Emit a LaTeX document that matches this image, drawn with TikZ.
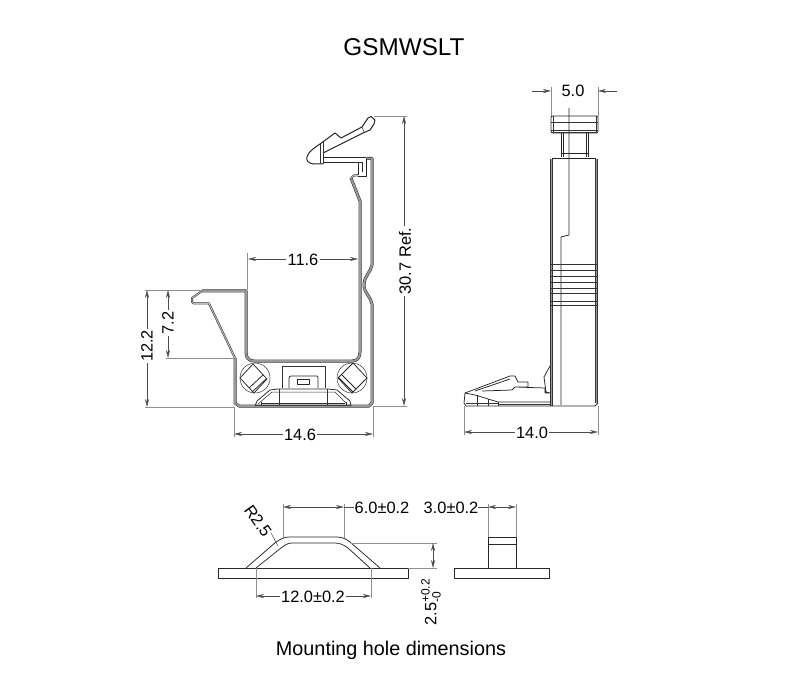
\documentclass[tikz,border=0pt]{standalone}
\usepackage{fontspec}
\setmainfont{Liberation Sans}
\usetikzlibrary{arrows.meta}
\definecolor{dimgray}{gray}{0.45}
\tikzset{
 part/.style={draw=black!85,line width=0.75pt,line join=round},
 thin part/.style={draw=black!80,line width=0.5pt,line join=round},
 thick part/.style={draw=black!75,line width=1.3pt,line join=round},
 wall/.style={draw=black!80,line width=0.55pt,double=black!40,double distance=1.9pt,line join=round},
 slim wall/.style={draw=black!80,line width=0.55pt,double=black!25,double distance=0.9pt,line join=round},
 ext/.style={draw=dimgray!80,line width=0.5pt},
 dimline/.style={draw=black!70,line width=0.5pt},
 tip/.style={-{Stealth[length=8pt,width=4pt]}},
 tips/.style={{Stealth[length=8pt,width=4pt]}-{Stealth[length=8pt,width=4pt]}},
 lbl/.style={font=\fontsize{16.4}{18}\selectfont,inner sep=1.5pt,fill=white},
}
\begin{document}
\begin{tikzpicture}[x=1pt,y=-1pt]
\useasboundingbox (0,0) rectangle (800,700);
\fill[white] (0,0) rectangle (800,700);

\node[font=\fontsize{24.3}{26}\selectfont,inner sep=0pt] (title) at (404,47) {GSMWSLT};
\node[font=\fontsize{19.8}{22}\selectfont,inner sep=0pt] (caption) at (391,650) {Mounting hole dimensions};

% ---- front view: clip
\draw[part,line width=1pt] (323,164) -- (313,164) .. controls (308,163) and (306,160) .. (307,157) .. controls (308,152) and (314,148) .. (320,144) -- (335,133) -- (341,138) -- (362,127) -- (368,118) -- (371,116.5) -- (375,120) -- (374,124) -- (370,130) -- (363,133) -- (323,153);
\draw[thin part] (362,127) -- (364,132);
\draw[thin part] (320,144) -- (320,164) (323,142) -- (323,164);
% arm
\draw[part] (323,157) -- (366,157);
\draw[part] (323,162) -- (362,162) -- (362,172);
\draw[part] (358,163) -- (358,175);
\draw[part] (366,158) -- (366,176) -- (358,176);
% outer wall
\draw[wall] (366.5,158.5) -- (372,158.5) -- (372,265) .. controls (371,272) and (364,276) .. (364,285) .. controls (364,293) and (371,297) .. (372,304) -- (372,403) -- (369,406) -- (239,406) -- (235,403) -- (235,358);
% inner U wall and hook
\draw[wall] (351,178) -- (360,201) -- (360,352) .. controls (360,358) and (357,361) .. (352,361) -- (254,361) .. controls (249,361) and (246,358) .. (246,352) -- (246,291) -- (202,291);
\draw[slim wall] (351,178) -- (354,175.5) -- (358,175.5);
\draw[slim wall] (202,291) -- (192,298) -- (192,302) -- (194,303.5) -- (209,303.5) -- (235,358);
% screws
\draw[thin part] (255,378) circle (15);
\draw[part] (240,378) -- (253,364) -- (267,379) -- (254,393) -- cycle;
\draw[part] (263,375) -- (249,388) (266,379) -- (252,392);
\draw[thin part] (352,378) circle (15);
\draw[part] (338,378) -- (353,363) -- (367,378) -- (352,393) -- cycle;
\draw[part] (342,375) -- (356,389) (339,378) -- (353,392);
% centre boss
\draw[thin part] (282,388) -- (282,366) -- (325,366) -- (325,388);
\draw[part] (289,388) -- (289,378) .. controls (289,376) and (290,376) .. (292,376) -- (316,376) .. controls (318,376) and (318,376) .. (318,378) -- (318,388);
\draw[part] (297,379) rectangle (309,384);
\draw[part] (255,406) -- (257,401) -- (270,390) -- (278,389) -- (328,389) -- (337,390) -- (350,401) -- (351,406);
\draw[thin part] (258,404) -- (272,392) -- (335,392) -- (347,404);
\draw[thin part] (279,389) -- (279,406) (327,389) -- (327,406) (261,402) -- (261,406) (346,402) -- (346,406) (262,403) -- (345,403);
\draw[thick part] (255,405.5) -- (351,405.5);

% dimensions front
\draw[ext] (374,116) -- (407,116) (373,406) -- (407,406);
\draw[dimline,tips] (404,116) -- (404,406);
\node[lbl,rotate=90] (d307) at (405,261) {30.7 Ref.};
\draw[ext] (247,253) -- (247,290);
\draw[dimline,tips] (248,259) -- (358,259);
\node[lbl] (d116) at (303,260) {11.6};
\draw[ext] (145,290) -- (201,290) (145,407) -- (235,407) (166,358) -- (235,358);
\draw[dimline,tips] (147,290) -- (147,407);
\draw[dimline,tips] (168,290) -- (168,358);
\node[lbl,rotate=90] (d122) at (147,346) {12.2};
\node[lbl,rotate=90] (d72) at (168,323) {7.2};
\draw[ext] (234,407) -- (234,437) (373,407) -- (373,437);
\draw[dimline,tips] (234,434) -- (373,434);
\node[lbl] (d146) at (300,435) {14.6};

% ---- side view
\draw[part] (551,118) .. controls (551,116) and (552,116) .. (553,116) -- (596,116) .. controls (598,116) and (598,116) .. (598,118) -- (598,131) .. controls (598,133) and (597,133) .. (596,133) -- (553,133) .. controls (552,133) and (551,133) .. (551,131) -- cycle;
\draw[thin part] (551,122) -- (598,122) (551,130) -- (598,130) (551,132) -- (598,132) (553,116) -- (553,133) (596,116) -- (596,133);
\draw[part] (561,133) -- (561,157) (563,133) -- (563,157) (586,133) -- (586,157) (588,133) -- (588,157) (561,153) -- (588,153);
\draw[part] (569,108) -- (569,235) -- (561,237) -- (561,405);
\draw[part] (552,158) -- (596,158);
\draw[wall] (551.5,406) -- (551.5,159);
\draw[wall] (596.5,159) -- (596.5,403);
\draw[part] (550,406) -- (595,406) -- (598,403);
\draw[thin part] (550,264) -- (598,264) (550,270) -- (598,270) (550,276) -- (598,276) (550,282) -- (598,282) (550,288) -- (598,288) (550,293) -- (598,293) (550,301) -- (598,301) (550,305) -- (598,305);
% foot
\draw[part] (550,402) -- (498,402) -- (475,395) -- (465,393) -- (464,403) -- (466,406) -- (550,406);
\draw[part] (465,393) -- (473,390) -- (510,376) -- (515,376) -- (518,382) -- (528,382) -- (528,387) -- (515,387) -- (512,390) -- (482,391) (510,379) -- (475,391) (515,387) -- (545,388);
\draw[thin part] (477,395) -- (477,406) (488,399) -- (488,406) (498,402) -- (498,406) (498,404) -- (550,404) (466,403) -- (498,403);
\draw[part] (550,366) -- (544,377) -- (546,392) -- (550,393) (545,388) -- (545,393) -- (550,393);

\draw[ext] (551,87) -- (551,116) (598,87) -- (598,116);
\draw[dimline,tip] (532,91) -- (551,91);
\draw[dimline,tip] (617,91) -- (598,91);
\node[lbl] (d50) at (573,91) {5.0};
\draw[ext] (464,406) -- (464,435) (598,406) -- (598,435);
\draw[dimline,tips] (464,432) -- (598,432);
\node[lbl] (d140) at (532,433) {14.0};

% ---- mounting hole, section
\draw[part] (218,568) rectangle (408,578);
\draw[part] (246,568) -- (276,542) .. controls (281,539) and (284,537) .. (289,537) -- (336,537) .. controls (341,537) and (345,538) .. (350,542) -- (380,568);
\draw[part] (256,568) -- (281,548) .. controls (285,545) and (288,543) .. (292,543) -- (335,543) .. controls (340,543) and (344,545) .. (348,548) -- (370,568);
\draw[ext] (283,504) -- (283,539) (344,504) -- (344,538);
\draw[dimline,tips] (283,507) -- (344,507);
\draw[dimline] (344,507) -- (354,507);
\node[font=\fontsize{16.4}{18}\selectfont,inner sep=0pt] (d60) at (382,508) {6.0±0.2};
\draw[ext] (256,568) -- (256,598) (371,568) -- (371,598);
\draw[dimline,tips] (256,596) -- (371,596);
\node[lbl] (d120) at (313,597) {12.0±0.2};
\node[font=\fontsize{16.4}{18}\selectfont,inner sep=0pt,rotate=-55] (r25) at (258,521) {R2.5};
\draw[dimline] (271,533) -- (278,546);
\draw[ext] (351,543) -- (437,543) (408,568) -- (437,568);
\draw[dimline,tips] (433,543) -- (433,568);
\node[font=\fontsize{16.4}{18}\selectfont,inner sep=0pt,rotate=90] (d25) at (431,602) {$\hbox{2.5}^{\hbox{\fontsize{12}{13}\selectfont +0.2}}_{\hbox{\fontsize{12}{13}\selectfont -0}}$};

% ---- mounting hole, side
\draw[part] (454,568) rectangle (549,578);
\draw[part] (488,568) -- (488,537) -- (516,537) -- (516,568) (488,544) -- (516,544);
\draw[ext] (488,504) -- (488,537) (516,504) -- (516,537);
\draw[dimline,tips] (488,507) -- (516,507);
\draw[dimline] (478,507) -- (488,507);
\node[font=\fontsize{16.4}{18}\selectfont,inner sep=0pt] (d30) at (451,508) {3.0±0.2};
\end{tikzpicture}
\end{document}
